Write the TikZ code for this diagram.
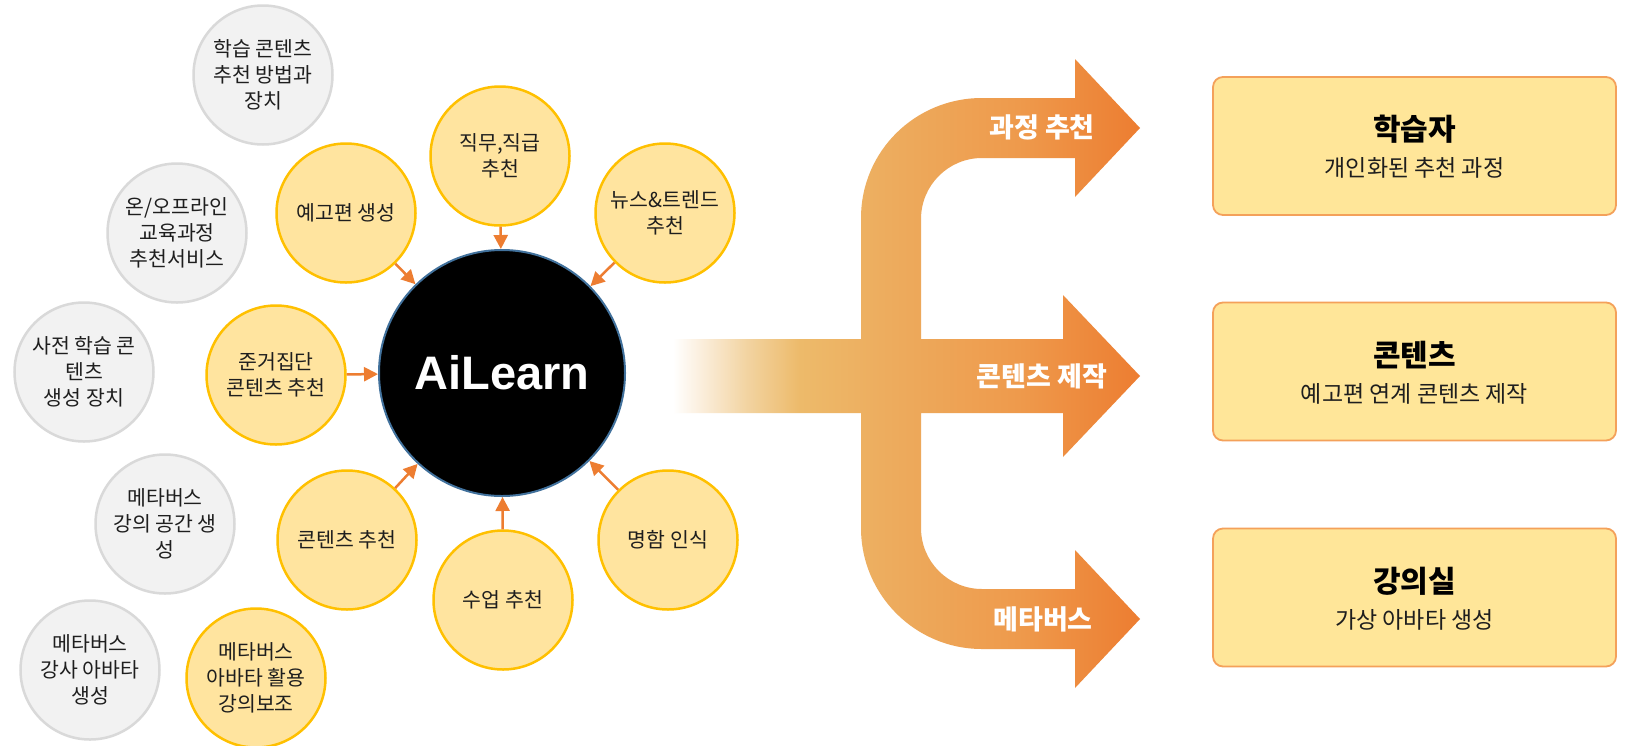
\documentclass[tikz,border=0pt]{standalone}
\usepackage{fontspec}
\setmainfont{Noto Sans CJK KR}
\newfontfamily\aifont{Liberation Sans}
\usetikzlibrary{arrows.meta}
\definecolor{ylfill}{HTML}{FFE49F}
\definecolor{yldraw}{HTML}{FFC000}
\definecolor{gyfill}{HTML}{F2F2F2}
\definecolor{gydraw}{HTML}{D9D9D9}
\definecolor{orng}{HTML}{ED7D31}
\definecolor{boxfill}{HTML}{FFE699}
\definecolor{boxdraw}{HTML}{F4A15A}
\definecolor{aiborder}{HTML}{41719C}
\definecolor{txt}{HTML}{1E1E1E}
\definecolor{sha}{HTML}{FBEEDC}
\definecolor{shb}{HTML}{F2D3A0}
\definecolor{shc}{HTML}{EDBA6A}
\definecolor{shd}{HTML}{EDAC5E}
\definecolor{she}{HTML}{EE9A4C}
\pgfdeclarehorizontalshading{bigarrowshade}{100bp}{color(0bp)=(white); color(25bp)=(white); color(28bp)=(sha); color(33bp)=(shb); color(38.6bp)=(shc); color(48bp)=(shd); color(62bp)=(she); color(75bp)=(orng); color(100bp)=(orng)}
\begin{document}
\begin{tikzpicture}[x=1pt,y=-1pt,
  ycirc/.style={circle, draw=yldraw, fill=ylfill, line width=2.5pt, minimum size=139pt, inner sep=0pt, align=center, text=txt, font=\fontsize{20.5}{26}\selectfont},
  gcirc/.style={circle, draw=gydraw, fill=gyfill, line width=2.5pt, minimum size=139pt, inner sep=0pt, align=center, text=txt, font=\fontsize{20.5}{26}\selectfont},
  conn/.style={draw=orng, line width=2.5pt, -{Triangle[length=14pt,width=14pt]}},
  resbox/.style={rectangle, rounded corners=10pt, draw=boxdraw, fill=boxfill, line width=1.8pt, minimum width=403pt, minimum height=138pt},
  boxtitle/.style={font=\bfseries\fontsize{30}{34}\selectfont, text=black, inner sep=0pt},
  boxsub/.style={font=\fontsize{23}{27}\selectfont, text=txt, inner sep=0pt},
  arrlabel/.style={font=\bfseries\fontsize{27}{30}\selectfont, text=white, inner sep=0pt}
]
\fill[white] (0,0) rectangle (1635,745);
\useasboundingbox (0,0) rectangle (1635,745);

% big branching arrow
\path[shading=bigarrowshade]
  (673,339) -- (861,339) -- (861,218)
  .. controls (861,151.2) and (915.2,98) .. (982,98)
  -- (1075,98) -- (1075,59) -- (1140,128) -- (1075,197) -- (1075,158) -- (982,158)
  .. controls (948.3,158) and (921,185.3) .. (921,219)
  -- (921,339) -- (1063,339) -- (1063,295) -- (1140,376) -- (1063,457) -- (1063,413)
  -- (921,413) -- (921,528)
  .. controls (921,561.7) and (948.3,589) .. (982,589)
  -- (1075,589) -- (1075,550) -- (1140,619) -- (1075,688) -- (1075,649) -- (982,649)
  .. controls (915.2,649) and (861,594.8) .. (861,528)
  -- (861,413) -- (673,413) -- cycle;

\node[arrlabel] (l1) at (1042,127) {과정 추천};
\node[arrlabel] (l2) at (1042,376) {콘텐츠 제작};
\node[arrlabel] (l3) at (1043,619) {메타버스};

% central node
\node[circle, fill=black, draw=aiborder, line width=2pt, minimum size=246pt, text=white,
      font=\aifont\bfseries\fontsize{47}{47}\selectfont] (ai) at (502,373) {AiLearn};

% yellow circles
\node[ycirc] (y1) at (346,213) {예고편 생성};
\node[ycirc] (y2) at (500,156) {직무,직급\\추천};
\node[ycirc] (y3) at (665,213) {뉴스\&트렌드\\추천};
\node[ycirc] (y4) at (276,375) {준거집단\\콘텐츠 추천};
\node[ycirc] (y5) at (347,540) {콘텐츠 추천};
\node[ycirc] (y6) at (503,600) {수업 추천};
\node[ycirc] (y7) at (668,540) {명함 인식};
\node[ycirc] (y8) at (256,678) {메타버스\\아바타 활용\\강의보조};

% gray circles
\node[gcirc] (g1) at (263,75) {학습 콘텐츠\\추천 방법과\\장치};
\node[gcirc] (g2) at (177,233) {온/오프라인\\교육과정\\추천서비스};
\node[gcirc] (g3) at (84,372) {사전 학습 콘\\텐츠\\생성 장치};
\node[gcirc] (g4) at (165,524) {메타버스\\강의 공간 생\\성};
\node[gcirc] (g5) at (90,670) {메타버스\\강사 아바타\\생성};

% connectors
\foreach \n in {y1,y2,y3,y4,y5,y6,y7} {
  \draw[conn] (\n) -- (ai);
}

% result boxes
\node[resbox] (b1) at (1414.5,146) {};
\node[resbox] (b2) at (1414.5,371.5) {};
\node[resbox] (b3) at (1414.5,597.5) {};
\node[boxtitle] (t1) at (1414.5,129) {학습자};
\node[boxsub] (s1) at (1414.5,168) {개인화된 추천 과정};
\node[boxtitle] (t2) at (1414.5,355) {콘텐츠};
\node[boxsub] (s2) at (1414.5,394) {예고편 연계 콘텐츠 제작};
\node[boxtitle] (t3) at (1414.5,581) {강의실};
\node[boxsub] (s3) at (1414.5,620) {가상 아바타 생성};
\end{tikzpicture}
\end{document}
